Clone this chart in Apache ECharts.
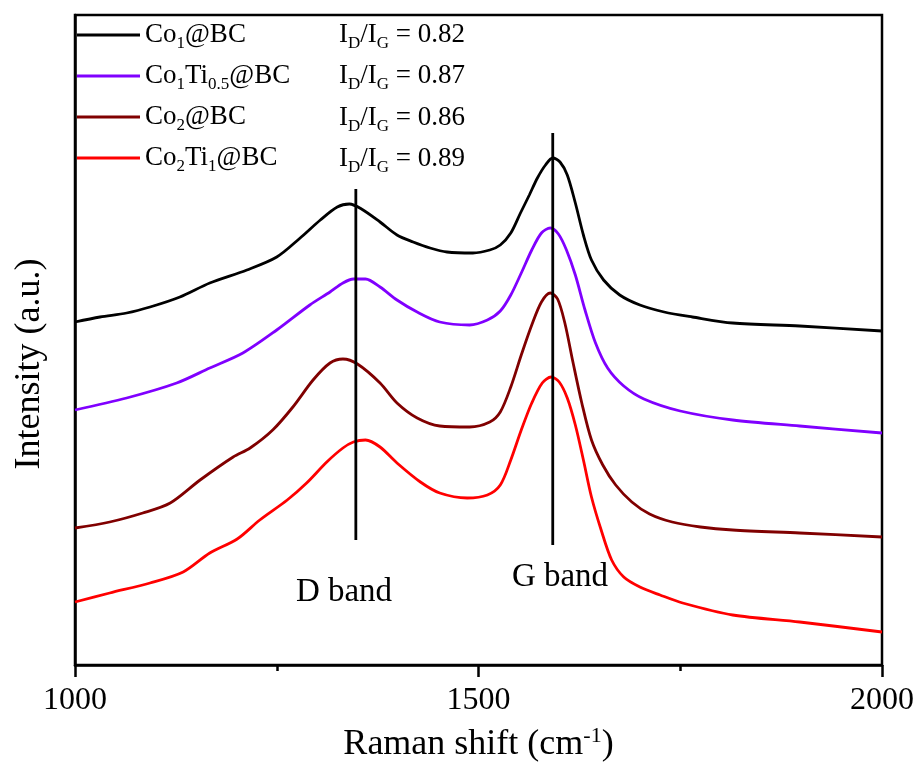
<!DOCTYPE html>
<html>
<head>
<meta charset="utf-8">
<script src="https://cdn.jsdelivr.net/npm/echarts@6/dist/echarts.min.js"></script>
<style>html,body{margin:0;padding:0;background:#fff;}#c{width:920px;height:771px;}</style>
</head>
<body>
<div id="c"></div>
<script>
// ---- data ----
var seriesNames = ['Co1@BC', 'Co1Ti0.5@BC', 'Co2@BC', 'Co2Ti1@BC'];
var legendLabels = ['Co{s|1}@BC', 'Co{s|1}Ti{s|0.5}@BC', 'Co{s|2}@BC', 'Co{s|2}Ti{s|1}@BC'];
var ratioValues = ['0.82', '0.87', '0.86', '0.89'];
var xTicks = [1000, 1500, 2000];

var co1 = [[1000,343],[1031,348],[1064,352],[1093,358],[1130,368],[1167,382],[1213,395],[1250,408],[1279,427],[1304,445],[1325,458],[1340,461],[1355,456],[1378,443],[1399,430],[1419,423],[1440,417],[1461,413],[1493,412],[1514,415],[1527,420],[1540,432],[1552,452],[1563,470],[1573,487],[1583,500],[1592,507],[1601,503],[1610,490],[1620,462],[1630,430],[1640,405],[1655,385],[1675,370],[1700,360],[1730,353],[1765,348],[1815,342],[1898,339],[2000,334]];
var co1ti05 = [[1000,255],[1064,267],[1126,282],[1167,297],[1208,312],[1250,335],[1291,360],[1316,373],[1332,382],[1345,386],[1360,386],[1378,378],[1399,365],[1424,353],[1452,343],[1489,340],[1511,345],[1527,354],[1540,370],[1553,392],[1566,415],[1578,432],[1589,437],[1599,431],[1609,415],[1620,390],[1632,355],[1645,322],[1660,297],[1680,279],[1705,266],[1750,254],[1815,245],[1898,239],[2000,232]];
var co2 = [[1000,137],[1043,143],[1084,152],[1118,162],[1155,185],[1196,208],[1217,217],[1245,235],[1270,258],[1295,285],[1316,302],[1332,306],[1350,301],[1378,282],[1399,262],[1424,247],[1452,239],[1489,238],[1514,243],[1527,253],[1540,278],[1553,310],[1566,340],[1578,363],[1589,372],[1598,366],[1607,342],[1617,303],[1628,262],[1640,225],[1654,200],[1670,180],[1690,163],[1712,151],[1740,143],[1775,138],[1815,135],[1898,132],[2000,128]];
var co2ti1 = [[1000,63],[1043,72],[1093,82],[1134,93],[1167,112],[1201,126],[1229,145],[1263,165],[1287,182],[1312,203],[1332,217],[1345,223],[1360,225],[1378,218],[1399,202],[1428,183],[1452,172],[1486,167],[1511,170],[1527,180],[1540,205],[1553,235],[1566,262],[1579,282],[1590,288],[1600,283],[1610,267],[1620,240],[1630,205],[1640,168],[1652,135],[1665,105],[1680,88],[1700,78],[1725,70],[1753,62],[1815,50],[1898,43],[2000,33]];
var dBandLine = [[1348,125],[1348,476]];
var gBandLine = [[1592,120],[1592,532]];
var colors = ['#000000', '#8000ff', '#800000', '#ff0000'];

var FONT = "'Liberation Serif','Times New Roman',serif";
var allData = [co1, co1ti05, co2, co2ti1];

var series = allData.map(function (d, i) {
  return {
    name: seriesNames[i], type: 'line', data: d, showSymbol: false, symbol: 'none',
    smooth: 0.3, lineStyle: { color: colors[i], width: 2.8 }, itemStyle: { color: colors[i] },
    silent: true, z: 3
  };
});
[dBandLine, gBandLine].forEach(function (d, i) {
  series.push({
    name: i === 0 ? 'D band' : 'G band', type: 'line', data: d, symbol: 'none',
    lineStyle: { color: '#000', width: 2.8 }, silent: true, z: 4
  });
});

var subRich = {
  s: { fontSize: 17, lineHeight: 12, verticalAlign: 'bottom', fontFamily: FONT, color: '#000' }
};

var graphics = ratioValues.map(function (v, i) {
  return {
    type: 'text', x: 339, y: 35 + i * 41.3,
    style: {
      text: 'I{s|D}/I{s|G} = ' + v, fontFamily: FONT, fontSize: 27, lineHeight: 34,
      fill: '#000', align: 'left', verticalAlign: 'middle', rich: subRich
    }
  };
});
graphics.push({ type: 'text', x: 344, y: 592, style: { text: 'D band', fontFamily: FONT, fontSize: 33, fill: '#000', align: 'center', verticalAlign: 'middle' } });
graphics.push({ type: 'text', x: 560, y: 577, style: { text: 'G band', fontFamily: FONT, fontSize: 33, fill: '#000', align: 'center', verticalAlign: 'middle' } });

var option = {
  backgroundColor: '#fff',
  animation: false,
  grid: { left: 75, right: 38, top: 15, bottom: 106, show: true, borderColor: '#000', borderWidth: 2.5 },
  legend: {
    data: seriesNames, orient: 'vertical', left: 77, top: 18, padding: 0,
    icon: 'rect', itemWidth: 63, itemHeight: 3, itemGap: 7,
    formatter: function (name) { return legendLabels[seriesNames.indexOf(name)]; },
    textStyle: { fontFamily: FONT, fontSize: 27, lineHeight: 34, color: '#000', rich: subRich }
  },
  xAxis: {
    type: 'value', min: xTicks[0], max: xTicks[xTicks.length - 1], interval: xTicks[1] - xTicks[0],
    name: 'Raman shift (cm{sup|-1})', nameLocation: 'middle', nameGap: 60,
    nameTextStyle: { fontFamily: FONT, fontSize: 36, lineHeight: 40, color: '#000',
      rich: { sup: { fontSize: 22, lineHeight: 16, verticalAlign: 'top', fontFamily: FONT, color: '#000' } } },
    axisLine: { lineStyle: { color: '#000', width: 2.5 } },
    axisTick: { show: true, inside: false, length: 12, lineStyle: { color: '#000', width: 2.5 } },
    minorTick: { show: true, splitNumber: 2, length: 6, lineStyle: { color: '#000', width: 2.5 } },
    axisLabel: { fontFamily: FONT, fontSize: 32, color: '#000', margin: 20, formatter: function (v) { return String(v); } },
    splitLine: { show: false }, minorSplitLine: { show: false }
  },
  yAxis: {
    type: 'value', min: 0, max: 650,
    name: 'Intensity (a.u.)', nameLocation: 'middle', nameGap: 27,
    nameTextStyle: { fontFamily: FONT, fontSize: 36, color: '#000', padding: [0, 48, 0, 0] },
    axisLine: { show: true, lineStyle: { color: '#000', width: 2.5 } },
    axisTick: { show: false }, axisLabel: { show: false }, splitLine: { show: false }
  },
  graphic: graphics,
  series: series
};
var chart = echarts.init(document.getElementById('c'), null, { renderer: 'canvas' });
chart.setOption(option);
</script>
</body>
</html>
